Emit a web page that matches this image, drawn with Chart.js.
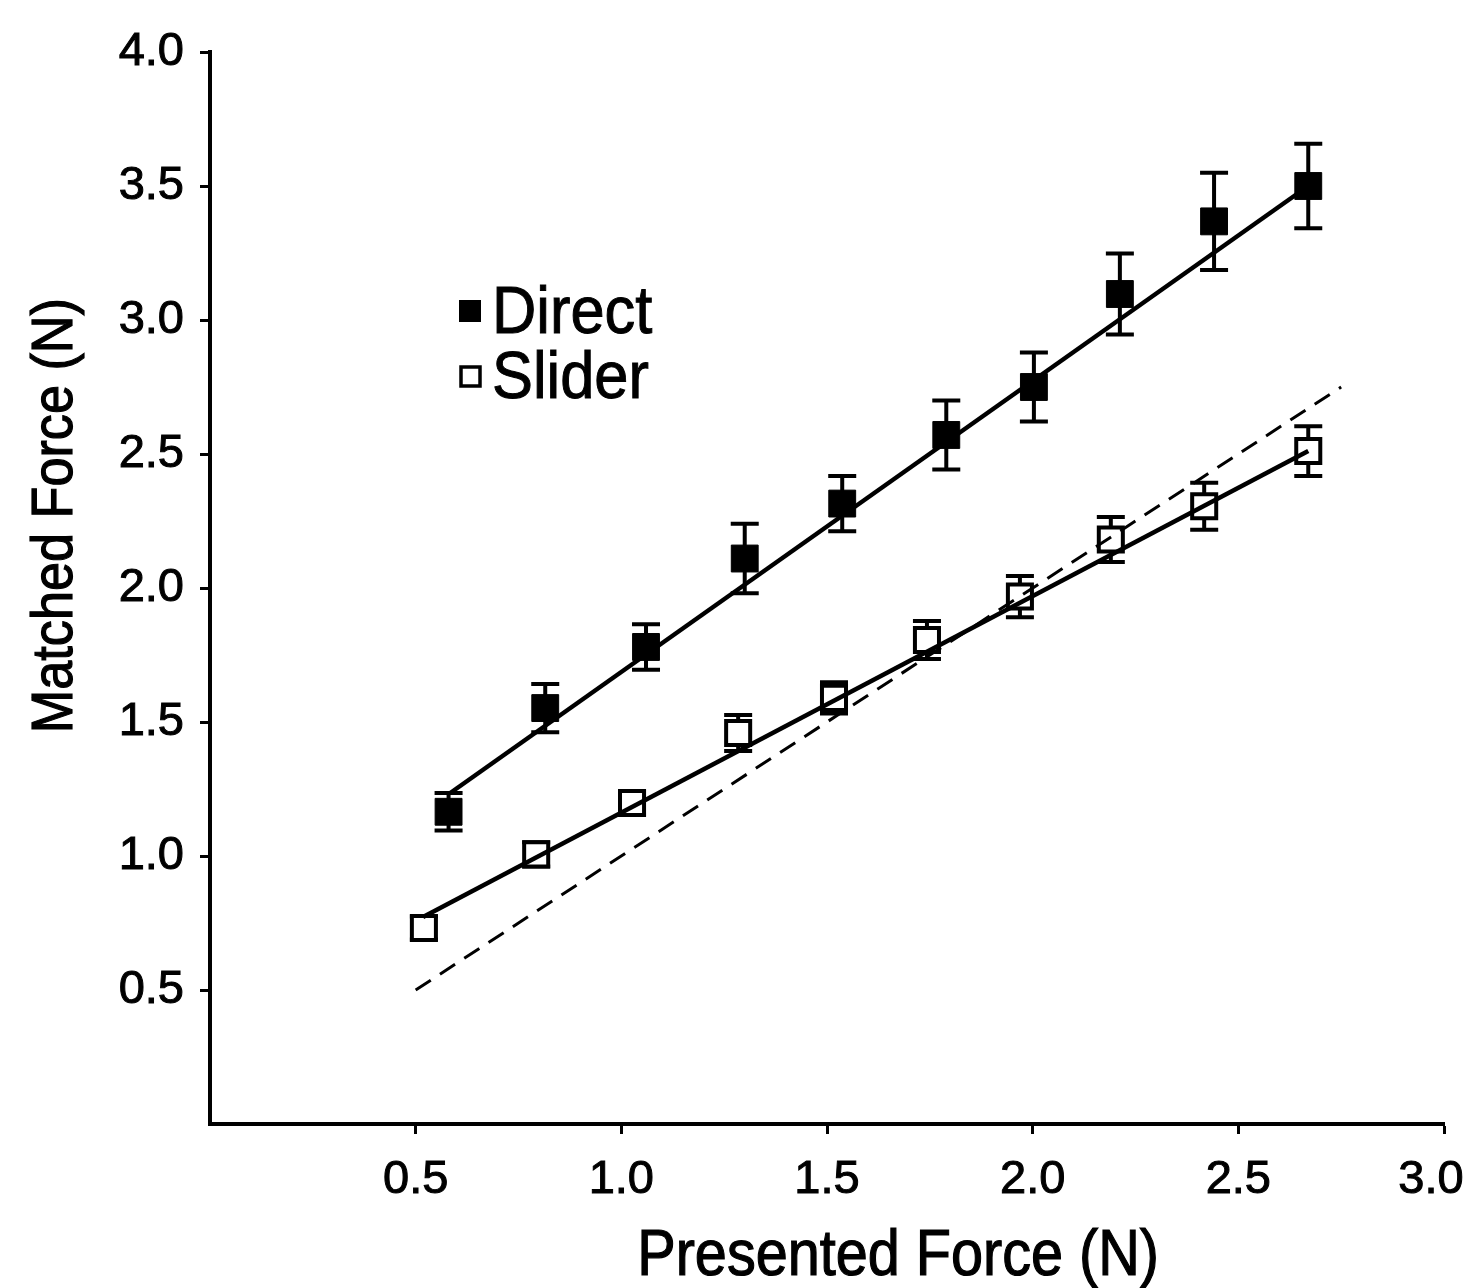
<!DOCTYPE html>
<html>
<head>
<meta charset="utf-8">
<script src="https://cdn.jsdelivr.net/npm/chart.js@4.4.1/dist/chart.umd.min.js"></script>
<style>
  html, body { margin: 0; padding: 0; background: #fff; }
  canvas { display: block; }
</style>
</head>
<body>
<canvas id="forceChart" width="1469" height="1288"></canvas>
<script>
// values
const directX   = [0.58, 0.815, 1.06, 1.30, 1.537, 1.79, 2.003, 2.212, 2.441, 2.67];
const directY   = [1.165, 1.552, 1.78, 2.11, 2.315, 2.571, 2.75, 3.097, 3.368, 3.50];
const directErr = [0.07, 0.09, 0.085, 0.13, 0.103, 0.129, 0.129, 0.151, 0.181, 0.158];

const sliderX   = [0.52, 0.793, 1.026, 1.284, 1.517, 1.743, 1.969, 2.19, 2.417, 2.67];
const sliderY   = [0.731, 1.006, 1.198, 1.459, 1.59, 1.806, 1.968, 2.181, 2.305, 2.511];
const sliderErr = [0.043, 0.045, 0.043, 0.067, 0.058, 0.071, 0.077, 0.084, 0.088, 0.093];

// regression lines and the identity line (endpoints)
const directFitX   = [0.584, 2.67];
const directFitY   = [1.235, 3.50];
const sliderFitX   = [0.518, 2.67];
const sliderFitY   = [0.772, 2.511];
const identityX    = [0.5, 2.75];
const identityY    = [0.5, 2.75];

const xTicks = [0.5, 1.0, 1.5, 2.0, 2.5, 3.0];
const yTicks = [0.5, 1.0, 1.5, 2.0, 2.5, 3.0, 3.5, 4.0];

const seriesNames = ["Direct", "Slider"];
const xTitle = "Presented Force (N)";
const yTitle = "Matched Force (N)";

const FONT = "'Liberation Sans', Arial, Helvetica, sans-serif";

const pts = (xs, ys) => xs.map((x, i) => ({ x, y: ys[i] }));

// vertical error bars with caps, drawn under the markers
const errorBars = {
  id: "errorBars",
  beforeDatasetsDraw(chart) {
    const { ctx, scales: { x, y } } = chart;
    const sets = [[directX, directY, directErr], [sliderX, sliderY, sliderErr]];
    ctx.save();
    ctx.strokeStyle = "#000";
    ctx.lineWidth = 4;
    ctx.lineCap = "butt";
    sets.forEach(([xs, ys, es]) => {
      xs.forEach((v, i) => {
        const px = x.getPixelForValue(v);
        const top = y.getPixelForValue(ys[i] + es[i]);
        const bot = y.getPixelForValue(ys[i] - es[i]);
        ctx.beginPath();
        ctx.moveTo(px, top); ctx.lineTo(px, bot);
        ctx.moveTo(px - 14, top); ctx.lineTo(px + 14, top);
        ctx.moveTo(px - 14, bot); ctx.lineTo(px + 14, bot);
        ctx.stroke();
      });
    });
    ctx.restore();
  }
};

function heavyText(ctx, text, sx) {
  ctx.scale(sx, 1);
  ctx.fillText(text, 0, 0);
  ctx.strokeText(text, 0, 0);
}

// axis titles and the in-plot legend
const decorations = {
  id: "decorations",
  afterDraw(chart) {
    const { ctx, scales: { x, y } } = chart;
    ctx.save();
    ctx.fillStyle = "#000";
    ctx.strokeStyle = "#000";
    ctx.lineWidth = 1.2;
    ctx.textAlign = "center";
    ctx.textBaseline = "alphabetic";

    ctx.font = "64px " + FONT;
    ctx.save();
    ctx.translate(x.getPixelForValue(1.673), 1275);
    heavyText(ctx, xTitle, 0.9);
    ctx.restore();

    ctx.font = "58px " + FONT;
    ctx.save();
    ctx.translate(72, y.getPixelForValue(2.27));
    ctx.rotate(-Math.PI / 2);
    heavyText(ctx, yTitle, 0.9);
    ctx.restore();

    // legend
    const lx = 470;
    const rows = [311, 376];
    ctx.font = "66px " + FONT;
    ctx.textAlign = "left";
    rows.forEach((cy, i) => {
      if (i === 0) {
        ctx.fillStyle = "#000";
        ctx.fillRect(lx - 11, cy - 11, 22, 22);
      } else {
        ctx.lineWidth = 3.5;
        ctx.fillStyle = "#fff";
        ctx.fillRect(lx - 9, cy - 9, 19, 19);
        ctx.strokeRect(lx - 9, cy - 9, 19, 19);
      }
      ctx.fillStyle = "#000";
      ctx.lineWidth = 1;
      ctx.save();
      ctx.translate(492, cy + 22);
      heavyText(ctx, seriesNames[i], 0.93);
      ctx.restore();
    });
    ctx.restore();
  }
};

const axisStyle = (ticks) => ({
  type: "linear",
  min: 0,
  afterBuildTicks: s => { s.ticks = ticks.map(v => ({ value: v })); },
  ticks: {
    color: "#000",
    font: { family: FONT, size: 47 },
    textStrokeColor: "#000",
    textStrokeWidth: 1,
    callback: v => Number(v).toFixed(1),
  },
  grid: {
    display: true,
    drawOnChartArea: false,
    drawTicks: true,
    tickLength: 10,
    tickWidth: 3,
    color: "#000",
  },
  border: { display: true, color: "#000", width: 4 },
});

const xAxis = axisStyle(xTicks);
xAxis.max = 3;
xAxis.ticks.padding = 18;
// the last label sits a little left of its tick so it stays on the canvas
xAxis.ticks.callback = v => v === 3 ? "3.0  " : Number(v).toFixed(1);
xAxis.afterFit = s => { s.height = 164; s.paddingRight = 25; };

const yAxis = axisStyle(yTicks);
yAxis.max = 4;
yAxis.ticks.padding = 16;
yAxis.afterFit = s => { s.width = 210; };

new Chart(document.getElementById("forceChart"), {
  type: "scatter",
  data: {
    datasets: [
      {
        label: "Direct fit",
        type: "line",
        data: pts(directFitX, directFitY),
        borderColor: "#000",
        borderWidth: 4.5,
        pointRadius: 0,
        order: 0,
      },
      {
        label: "Slider fit",
        type: "line",
        data: pts(sliderFitX, sliderFitY),
        borderColor: "#000",
        borderWidth: 4.5,
        pointRadius: 0,
        order: 0,
      },
      {
        label: "Identity",
        type: "line",
        data: pts(identityX, identityY),
        borderColor: "#000",
        borderWidth: 3,
        borderDash: [18, 11],
        pointRadius: 0,
        order: 0,
      },
      {
        label: seriesNames[0],
        data: pts(directX, directY),
        pointStyle: "rect",
        pointRadius: 19,
        backgroundColor: "#000",
        borderColor: "#000",
        borderWidth: 1,
        order: 1,
      },
      {
        label: seriesNames[1],
        data: pts(sliderX, sliderY),
        pointStyle: "rect",
        pointRadius: 17,
        backgroundColor: "#fff",
        borderColor: "#000",
        borderWidth: 4,
        order: 1,
      },
    ],
  },
  options: {
    responsive: false,
    animation: false,
    devicePixelRatio: 1,
    layout: { padding: { top: 52, left: 0, right: 0, bottom: 0 } },
    plugins: {
      legend: { display: false },
      tooltip: { enabled: false },
    },
    scales: { x: xAxis, y: yAxis },
  },
  plugins: [errorBars, decorations],
});
</script>
</body>
</html>
